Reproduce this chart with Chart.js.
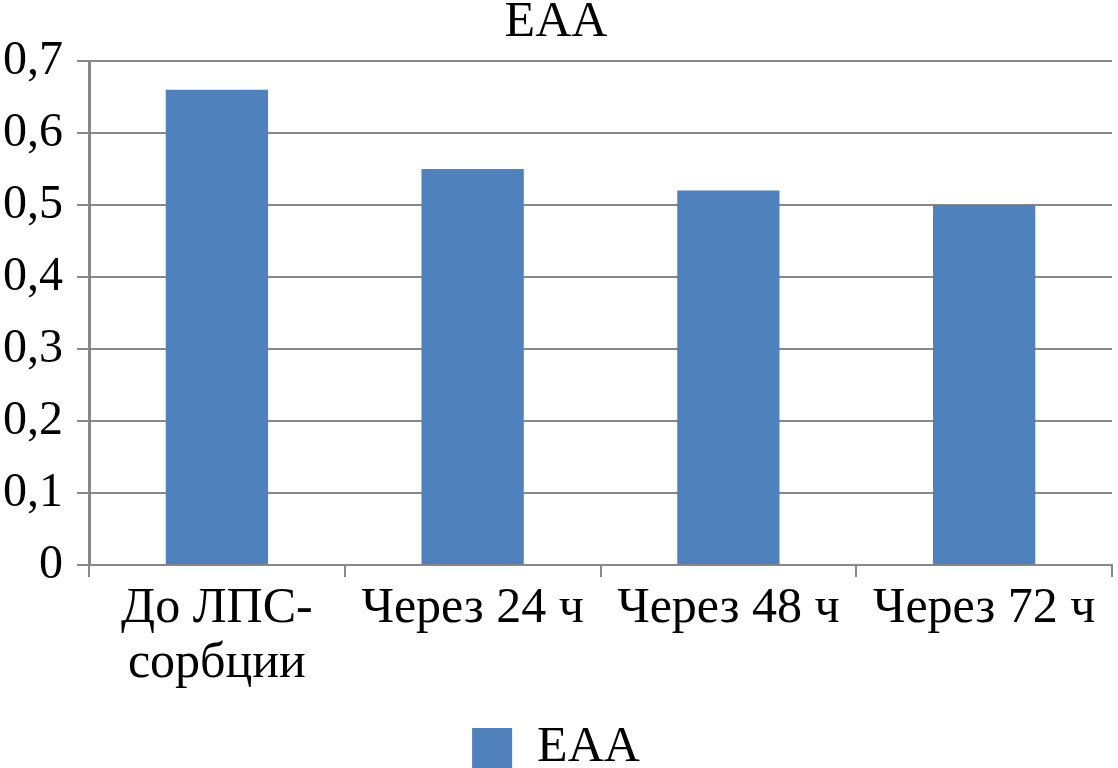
<!DOCTYPE html>
<html>
<head>
<meta charset="utf-8">
<script src="https://cdn.jsdelivr.net/npm/chart.js@4"></script>
<style>
  html, body { margin: 0; padding: 0; background: #fff; }
  #wrap { width: 1118px; height: 768px; }
</style>
</head>
<body>
<div id="wrap"><canvas id="eaaChart"></canvas></div>
<script>
// Data
const categories = [["До ЛПС-", "сорбции"], "Через 24 ч", "Через 48 ч", "Через 72 ч"];
const eaaValues = [0.66, 0.55, 0.52, 0.50];
const seriesName = "ЕАА";

const serif = '"Liberation Serif", serif';
Chart.defaults.font.family = serif;
Chart.defaults.color = "#000";

const ctx = document.getElementById("eaaChart").getContext("2d");
new Chart(ctx, {
  type: "bar",
  data: {
    labels: categories,
    datasets: [{
      label: seriesName,
      data: eaaValues,
      backgroundColor: "#4f81bd",
      barPercentage: 0.4,
      categoryPercentage: 1.0
    }]
  },
  options: {
    responsive: true,
    maintainAspectRatio: false,
    animation: false,
    layout: { padding: { left: 0, right: 6, top: 0, bottom: -15 } },
    plugins: {
      title: {
        display: true,
        text: seriesName,
        font: { family: serif, size: 50, weight: "normal", lineHeight: 0.9 },
        color: "#000",
        padding: { top: 0, bottom: 16 }
      },
      legend: {
        position: "bottom",
        labels: {
          boxWidth: 40,
          boxHeight: 40,
          padding: 0,
          font: { family: serif, size: 50 },
          color: "#000"
        }
      },
      tooltip: { enabled: false }
    },
    scales: {
      x: {
        // fixed height so the legend sits where it does in the figure
        afterFit: scale => { scale.height = 158; },
        grid: {
          display: true,
          offset: true,
          drawOnChartArea: false,
          drawTicks: true,
          tickLength: 12,
          color: "#888",
          lineWidth: 2
        },
        border: { display: true, color: "#888", width: 2 },
        ticks: {
          maxRotation: 0,
          autoSkip: false,
          font: { family: serif, size: 50, lineHeight: 1.1 },
          color: "#000",
          padding: 4
        }
      },
      y: {
        min: 0,
        max: 0.7,
        afterFit: scale => { scale.width = 89; },
        ticks: {
          stepSize: 0.1,
          font: { family: serif, size: 48 },
          color: "#000",
          padding: 14,
          callback: v => v === 0 ? "0" : v.toFixed(1).replace(".", ",")
        },
        grid: {
          color: "#888",
          lineWidth: 2,
          tickLength: 12
        },
        border: { display: true, color: "#888", width: 3 }
      }
    }
  }
});
</script>
</body>
</html>
